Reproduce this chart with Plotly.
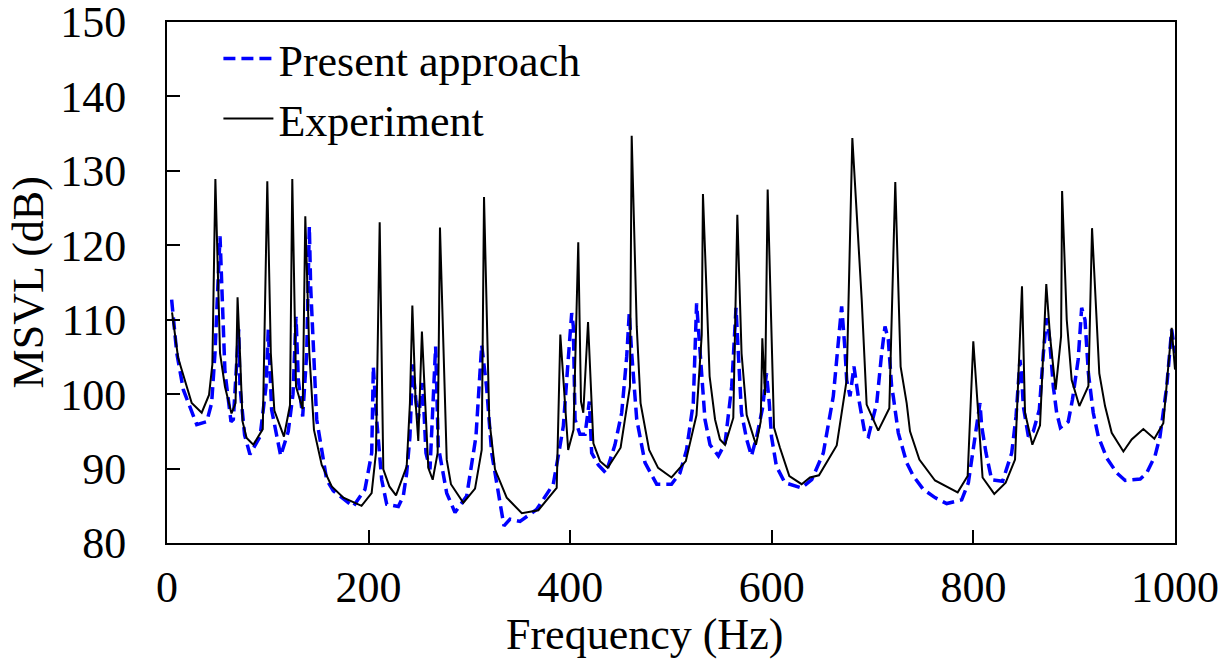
import plotly.graph_objects as go

# Present approach (computed), Hz / dB
freq_model = [4.6, 9.6, 16.2, 26, 29.5, 39.4, 44.3, 47.6, 52.6, 54.5, 57.5, 63.5, 65.8, 71.1, 72.4, 77, 82.3,
              92.3, 98.2, 100.5, 103.8, 112.8, 120.3, 125, 128, 130.3, 134.6, 138.6, 141.2, 142.5, 146, 148.5,
              158.4, 165, 184.8, 196.4, 203.1, 204.7, 208, 213, 218, 229.5, 234.4, 237.8, 241, 243.7, 247,
              249.3, 253.6, 256.9, 260.9, 266.5, 269.1, 277.5, 285.7, 297.3, 306.5, 312.2, 317, 322.1, 330.4,
              334.3, 340.3, 350.2, 366.7, 383.2, 389.2, 393.2, 397.3, 401.5, 403.1, 404.8, 409.7, 414.7, 419,
              421.3, 427.9, 435.5, 444.4, 451.1, 456.1, 458.6, 461, 466, 474.2, 485.8, 500.5, 508.9, 515.4,
              522.1, 525.4, 528.8, 533.7, 538.7, 547, 553.6, 560.2, 561.8, 564.5, 566.8, 569.9, 575.1, 579.8,
              585, 590.8, 594.7, 597.5, 599.7, 604.6, 612.9, 629.4, 639.6, 651.1, 661, 666, 669.3, 672.6,
              674.3, 677.6, 681.5, 685.8, 692.5, 695.8, 704.1, 709, 712.3, 715.6, 718.9, 720.5, 725.5, 733.8,
              740.4, 750.3, 761.9, 773.5, 788.4, 795, 799.9, 804.8, 806.5, 808.2, 812.5, 818.1, 829, 838,
              842.3, 846.2, 847.9, 849.5, 854.5, 859.4, 865.4, 869.4, 872.7, 875.3, 879.3, 882.6, 886.3, 894.1,
              898.3, 903.9, 907.4, 910.7, 914.1, 918.9, 923.9, 932.4, 942.3, 950.6, 965.5, 971.9, 980.2, 985.1,
              991.8, 996.7, 1000]
msvl_model = [112.7, 105.6, 100.6, 97, 95.9, 96.3, 98.8, 105.5, 121.2, 114, 103, 96.3, 96.6, 108.7, 101, 94.5, 91.9,
              94.3, 101, 108.7, 97.9, 91.7, 95, 100, 110.4, 101.9, 97, 105.5, 122.5, 114.5, 104, 96.6,
              88.5, 87, 84.9, 87.2, 92.1, 103.7, 96.6, 88.5, 85.2, 84.9, 86.3, 89.4, 94.3, 104, 99,
              96.6, 101.5, 92.1, 89.9, 106.4, 93, 86.7, 84.1, 86.3, 94.3, 106.6, 101, 92.1, 85.4,
              82.3, 83.2, 82.9, 84.5, 87.9, 92.5, 95.7, 103.3, 110.9, 109.1, 96.6, 94.6, 94.6, 99,
              92.1, 90.5, 89.4, 93.2, 97.5, 105.1, 110.9, 105.5, 96.6, 90.8, 87.9, 87.9, 89.4, 92.5,
              98.8, 112.2, 105.5, 96.6, 93.2, 91.7, 93.4, 101, 104.9, 111.6, 105.5, 97.5, 93.9, 91.7,
              94.3, 98.1, 102.8, 98.8, 94.3, 90.3, 88.1, 87.4, 88.5, 92.1, 99.7, 106.4, 111.8, 106,
              101.9, 99.7, 103.7, 99.7, 94.6, 94.3, 98.8, 105.5, 109.1, 107.3, 101, 99.7, 94.8, 90.8,
              89, 87.2, 86.1, 85.3, 85.8, 88.1, 93, 97.5, 98.8, 95.7, 92.1, 88.5, 88.3, 92.1,
              97, 104.6, 102.4, 98.4, 94.3, 95, 97.9, 105.5, 110.2, 107.8, 101, 97.5, 95.5, 96.3,
              99.3, 104.6, 111.6, 110, 102.8, 97.5, 94.3, 91.4, 89.4, 88.4, 88.6, 89.4, 91.7, 94.3,
              101, 108.7, 105.5]

# Experiment (measured), Hz / dB
freq_exp = [5, 11, 24.5, 34.4, 41.7, 45, 48, 52.6, 57.5, 64, 68, 70, 72.4, 75, 79, 85.6, 95, 99.5, 103, 106.5,
            116, 122, 124.3, 128, 134.6, 137.2, 141.2, 145.8, 153.5, 163.4, 175, 193, 203, 207.3, 211, 214.6,
            220.6, 227.2, 237.8, 241, 243.4, 246.7, 249.3, 252.9, 259.2, 263.6, 268.5, 270.8, 277.5, 281.7, 294,
            305.6, 312.2, 314.5, 319.7, 325.4, 337, 352, 368.4, 386.6, 390.2, 398, 403.3, 408, 410.7, 413,
            417.7, 423, 429.6, 437.2, 450, 459.3, 461, 466, 469.8, 478.3, 487.2, 500.5, 514.7, 525.3, 530.5,
            531.7, 538.3, 543.7, 548.6, 553.6, 561.8, 565.8, 570, 575.1, 584.3, 589, 590.6, 593.3, 595.9,
            602.2, 608.1, 617.4, 629.6, 637.9, 646.8, 664.4, 674.3, 679.9, 689.2, 694.1, 705.6, 716.6, 722.5,
            727.8, 733.8, 737.1, 746.4, 761.9, 784.4, 794.3, 799.9, 809.1, 820.7, 832, 841.3, 848.2, 851.2,
            858.5, 866.1, 872.3, 876, 881.6, 887, 888, 892.6, 897.5, 905.1, 914.1, 917.7, 922.3, 924.9,
            930.6, 937.2, 948.8, 957, 968.6, 979.5, 988.4, 996.7, 1000]
msvl_exp = [111, 104.9, 98.8, 97.5, 99.9, 104, 128.9, 105.5, 101, 97.4, 98.8, 113, 105.5, 96.3, 94.1, 93.2, 95.3, 128.6, 105.5, 97.8,
            94.3, 98.5, 128.9, 101, 98, 123.9, 105.5, 95.2, 90.5, 87.6, 86.1, 85, 86.7, 92.1, 123.1, 89.9,
            87.6, 86.4, 90.3, 98.8, 111.9, 98.8, 93.7, 108.4, 90.1, 88.5, 92.1, 122.4, 91.2, 87.9, 85.4,
            87.3, 92.5, 126.5, 96.6, 89.9, 86.1, 84, 84.4, 87.4, 108, 92.5, 95.2, 120.4, 99, 97.5,
            109.7, 93.4, 91, 90.1, 92.8, 101, 134.7, 109.1, 98.8, 92.5, 90.1, 88.8, 91, 97.2, 108,
            126.9, 102.4, 96.6, 93.9, 93.2, 96.8, 124.1, 105.5, 97.2, 93.2, 96.3, 107.5, 99.9, 127.5,
            95.5, 92.8, 89, 87.9, 88.8, 89.1, 93.1, 101.9, 134.4, 112.7, 98.6, 95.1, 98.1, 128.5,
            103.7, 98.8, 95, 91.2, 88.4, 86.8, 89, 107.1, 88.8, 86.6, 88.1, 91.2, 114.5, 97.5,
            93.2, 95.8, 114.8, 107.8, 100.6, 107.8, 127.3, 110, 101.9, 98.4, 101.1, 122.3, 110, 102.8,
            98.4, 94.8, 92.3, 93.9, 95.3, 94, 96.1, 108.9, 103.3]

x_ticks = [0, 200, 400, 600, 800, 1000]
y_ticks = [80, 90, 100, 110, 120, 130, 140, 150]

FONT = "Liberation Serif, Times New Roman, serif"

fig = go.Figure()
fig.add_trace(go.Scatter(x=freq_model, y=msvl_model, mode="lines", name="Present approach",
                         line=dict(color="#0000ff", width=3.5, dash="12px,6px"), legend="legend",
                         showlegend=True))
fig.add_trace(go.Scatter(x=freq_exp, y=msvl_exp, mode="lines", name="Experiment",
                         line=dict(color="black", width=2), legend="legend2", showlegend=True))

axis_common = dict(showline=True, mirror=True, linecolor="black", linewidth=2, showgrid=False, zeroline=False,
                   ticks="inside", ticklen=13, tickwidth=1.5, tickcolor="black", automargin=False,
                   ticklabeloverflow="allow",
                   tickfont=dict(family=FONT, size=44, color="black"))
fig.update_xaxes(range=[0, 1000], tickvals=x_ticks, ticklabelstandoff=4, **axis_common)
fig.update_yaxes(range=[80, 150], tickvals=y_ticks, ticklabelstandoff=30, **axis_common)

leg = dict(xanchor="left", yanchor="middle", bgcolor="rgba(0,0,0,0)", itemwidth=50,
           font=dict(family=FONT, size=44, color="black"))
# page body adds an 8px offset, so the figure is a bit smaller than the window
fig.update_layout(
    width=1223, height=655,
    margin=dict(l=159, r=56, t=14, b=120, autoexpand=False),
    plot_bgcolor="white", paper_bgcolor="white",
    showlegend=True,
    legend=dict(x=0.051, y=0.929, **leg),
    legend2=dict(x=0.051, y=0.814, **leg),
    annotations=[
        dict(text="Frequency (Hz)", xref="paper", yref="paper", x=0.474, y=-0.175, yanchor="middle",
             showarrow=False, font=dict(family=FONT, size=44, color="black")),
        dict(text="MSVL (dB)", xref="paper", yref="paper", x=-0.137, y=0.5, textangle=-90,
             xanchor="center", yanchor="middle", showarrow=False,
             font=dict(family=FONT, size=44, color="black")),
    ],
)

fig.write_html("out.html")
